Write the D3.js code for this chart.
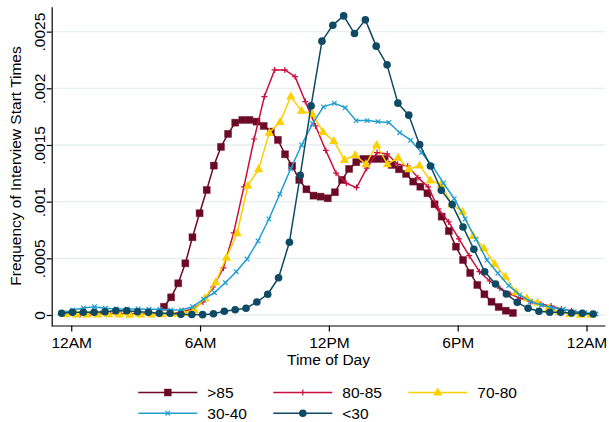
<!DOCTYPE html>
<html>
<head>
<meta charset="utf-8">
<script src="https://cdn.jsdelivr.net/npm/d3@7"></script>
<style>
body { margin: 0; background: #fff; }
text { font-family: "Liberation Sans", Arial, sans-serif; fill: #000; }
.tick text, .axisText, .legendText { font-size: 15.5px; }
</style>
</head>
<body>
<div id="chart"></div>
<script>
// kernel density values, in units of 0.001, 50 evaluation points per group
var groupNames = [">85", "80-85", "70-80", "30-40", "<30"];
// first and last evaluation point of each group (hours after midnight)
var gridStart = [4.32, 0.41, -0.27, -0.44, -0.45];
var gridEnd = [20.57, 23.78, 24.22, 24.44, 24.31];

var over85 = [0.073, 0.156, 0.280, 0.456, 0.686, 0.898, 1.103, 1.318, 1.483, 1.598,
    1.697, 1.721, 1.721, 1.706, 1.668, 1.618, 1.545, 1.418, 1.315, 1.192,
    1.109, 1.053, 1.044, 1.030, 1.083, 1.192, 1.289, 1.348, 1.377, 1.377,
    1.377, 1.377, 1.324, 1.286, 1.245, 1.177, 1.132, 1.074, 0.977, 0.868,
    0.741, 0.603, 0.485, 0.371, 0.265, 0.183, 0.117, 0.071, 0.038, 0.018];
var age80to85 = [0.005, 0.008, 0.010, 0.012, 0.010, 0.009, 0.008, 0.007, 0.008, 0.012,
    0.030, 0.053, 0.115, 0.247, 0.415, 0.724, 1.130, 1.553, 1.927, 2.162,
    2.162, 2.103, 1.883, 1.668, 1.452, 1.251, 1.162, 1.124, 1.295, 1.433,
    1.421, 1.330, 1.315, 1.212, 1.130, 0.936, 0.821, 0.671, 0.523, 0.382,
    0.300, 0.236, 0.185, 0.147, 0.117, 0.094, 0.079, 0.053, 0.035, 0.020];
var age70to80 = [0.006, 0.005, 0.004, 0.005, 0.006, 0.004, 0.003, 0.004, 0.005, 0.006,
    0.010, 0.018, 0.044, 0.147, 0.289, 0.506, 0.721, 1.141, 1.286, 1.609,
    1.703, 1.927, 1.801, 1.774, 1.615, 1.536, 1.368, 1.412, 1.330, 1.500,
    1.330, 1.388, 1.286, 1.320, 1.187, 1.152, 0.977, 0.912, 0.697, 0.589,
    0.450, 0.338, 0.200, 0.147, 0.109, 0.059, 0.029, 0.009, 0.003, 0.003];
var age30to40 = [0.018, 0.044, 0.062, 0.073, 0.059, 0.053, 0.053, 0.053, 0.050, 0.050,
    0.044, 0.044, 0.073, 0.139, 0.197, 0.285, 0.382, 0.494, 0.653, 0.847,
    1.068, 1.290, 1.500, 1.688, 1.836, 1.869, 1.829, 1.715, 1.715, 1.706,
    1.699, 1.608, 1.542, 1.434, 1.313, 1.165, 1.026, 0.847, 0.668, 0.485,
    0.368, 0.259, 0.177, 0.117, 0.088, 0.064, 0.050, 0.029, 0.020, 0.009];
var under30 = [0.015, 0.024, 0.024, 0.024, 0.029, 0.038, 0.038, 0.029, 0.024, 0.015,
    0.015, 0.006, 0.005, 0.003, 0.011, 0.033, 0.047, 0.059, 0.115, 0.183,
    0.329, 0.642, 1.233, 1.845, 2.416, 2.557, 2.639, 2.483, 2.604, 2.372,
    2.207, 1.869, 1.763, 1.503, 1.315, 1.101, 0.974, 0.777, 0.580, 0.382,
    0.274, 0.185, 0.112, 0.059, 0.033, 0.024, 0.024, 0.018, 0.015, 0.009];

var xTickValues = [0, 6, 12, 18, 24];
var xTickLabels = ["12AM", "6AM", "12PM", "6PM", "12AM"];
var yTickValues = [0, 0.5, 1, 1.5, 2, 2.5];
var yTickLabels = ["0", ".0005", ".001", ".0015", ".002", ".0025"];

var seriesValues = [over85, age80to85, age70to80, age30to40, under30];
var colors = ["#6b0a26", "#c9103c", "#fcd000", "#1f9ed1", "#0e4a63"];
var markers = ["square", "plus", "triangle", "cross", "circle"];

var svgWidth = 609;
var svgHeight = 422;

var svg = d3.select("#chart")
    .append("svg")
    .attr("width", svgWidth)
    .attr("height", svgHeight);

var xScale = d3.scaleLinear()
    .domain([-0.91, 24.86])
    .range([51.7, 605]);

var yScale = d3.scaleLinear()
    .domain([-0.097, 2.72])
    .range([326, 6.7]);

// gridlines
svg.append("g").selectAll("line")
    .data(yTickValues)
    .enter()
    .append("line")
    .attr("x1", xScale.range()[0])
    .attr("x2", xScale.range()[1])
    .attr("y1", d => yScale(d))
    .attr("y2", d => yScale(d))
    .attr("stroke", "#e6eef0")
    .attr("stroke-width", 1.3);

// build points for each group
var seriesData = seriesValues.map(function(vals, s) {
    var step = (gridEnd[s] - gridStart[s]) / (vals.length - 1);
    return vals.map((v, i) => ({ h: gridStart[s] + i * step, v: v }));
});

function drawMarker(g, type, color) {
    if (type == "square") {
        g.append("rect").attr("x", -3.5).attr("y", -3.5).attr("width", 7).attr("height", 7)
            .attr("fill", color).attr("stroke", color).attr("stroke-opacity", 0.5).attr("stroke-width", 0.8);
    } else if (type == "plus") {
        g.append("path").attr("d", "M-3,0H3M0,-3V3")
            .attr("stroke", color).attr("stroke-width", 1.2).attr("fill", "none");
    } else if (type == "triangle") {
        g.append("path").attr("d", "M0,-5L4.6,3L-4.6,3Z").attr("fill", color);
    } else if (type == "cross") {
        g.append("path").attr("d", "M-2.3,-2.3L2.3,2.3M-2.3,2.3L2.3,-2.3")
            .attr("stroke", color).attr("stroke-width", 1.2).attr("fill", "none");
    } else {
        g.append("circle").attr("r", 3.8).attr("fill", color);
    }
}

var lineGen = d3.line()
    .x(d => xScale(d.h))
    .y(d => yScale(d.v));

seriesData.forEach(function(pts, s) {
    var grp = svg.append("g");
    grp.append("path")
        .datum(pts)
        .attr("d", lineGen)
        .attr("fill", "none")
        .attr("stroke", colors[s])
        .attr("stroke-width", 1.5)
        .attr("stroke-linejoin", "round");
    grp.selectAll("g.mk")
        .data(pts)
        .enter()
        .append("g")
        .attr("class", "mk")
        .attr("transform", d => `translate(${xScale(d.h)},${yScale(d.v)})`)
        .each(function() { drawMarker(d3.select(this), markers[s], colors[s]); });
});

// axes
var bottomAxis = d3.axisBottom(xScale)
    .tickValues(xTickValues)
    .tickFormat((d, i) => xTickLabels[i])
    .tickSize(6)
    .tickSizeOuter(0);

var leftAxis = d3.axisLeft(yScale)
    .tickValues(yTickValues)
    .tickFormat((d, i) => yTickLabels[i])
    .tickSize(5)
    .tickSizeOuter(0);

var xAxisG = svg.append("g")
    .attr("transform", "translate(0,325.5)")
    .call(bottomAxis);
xAxisG.selectAll(".tick text").attr("y", 22.8).attr("dy", null);

var yAxisG = svg.append("g")
    .attr("transform", "translate(51.7,0)")
    .call(leftAxis);
yAxisG.selectAll(".tick text")
    .attr("x", 0).attr("dy", null)
    .attr("text-anchor", "middle")
    .attr("transform", "translate(-7.2,0) rotate(-90)");

svg.selectAll(".domain, .tick line").attr("stroke", "#000").attr("stroke-width", 1.2);

// axes labels
svg.append("text")
    .attr("class", "axisText")
    .attr("transform", "translate(20.7,166) rotate(-90)")
    .attr("text-anchor", "middle")
    .text("Frequency of Interview Start Times");

svg.append("text")
    .attr("class", "axisText")
    .attr("x", 328.5)
    .attr("y", 365)
    .attr("text-anchor", "middle")
    .text("Time of Day");

// legend
var legendX = [138.3, 273.3, 408.3, 138.3, 273.3];
var legendY = [392.5, 392.5, 392.5, 413.2, 413.2];

groupNames.forEach(function(name, s) {
    var lg = svg.append("g").attr("transform", `translate(${legendX[s]},${legendY[s]})`);
    lg.append("line").attr("x1", 0).attr("x2", 59).attr("y1", 0).attr("y2", 0)
        .attr("stroke", colors[s]).attr("stroke-width", 1.5);
    drawMarker(lg.append("g").attr("transform", "translate(29.5,0)"), markers[s], colors[s]);
    lg.append("text")
        .attr("class", "legendText")
        .attr("x", 69)
        .attr("y", 5.6)
        .text(name);
});
</script>
</body>
</html>
